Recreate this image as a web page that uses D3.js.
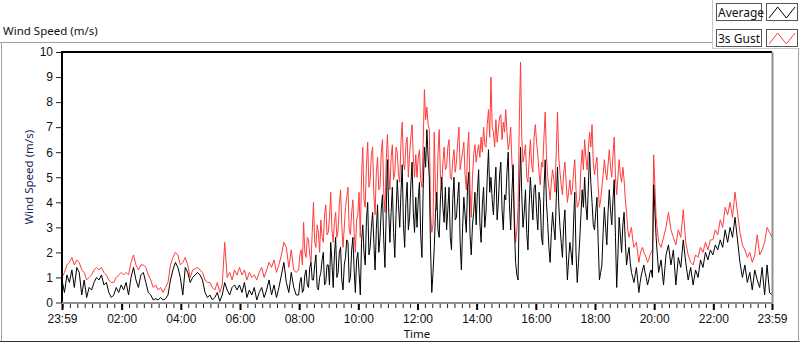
<!DOCTYPE html>
<html>
<head>
<meta charset="utf-8">
<script src="https://cdn.jsdelivr.net/npm/d3@7"></script>
<style>
  body { margin: 0; background: #fff; }
  svg { display: block; font-family: "Noto Sans", "Open Sans", sans-serif; }
</style>
</head>
<body>
<div id="chart"></div>
<script>
// one row per hour starting 23:59; values spread evenly across the hour
var averageSpeed = [
  [0.9,0.4,1.1,0.8,1.3,0.6,1.4,1.2,0.3,0.9,0.2,0.6],
  [0.5,0.8,1.0,0.9,1.1,0.7,0.8,0.4,0.2,0.3,0.6,0.4],
  [0.7,0.5,0.8,0.3,1.0,1.4,0.9,0.6,1.1,1.2,0.8,0.4],
  [0.3,0.1,0.15,0.1,0.2,0.1,0.15,0.3,0.9,1.3,1.6,1.4],
  [1.0,0.3,1.4,1.2,0.8,1.0,1.1,1.2,1.1,0.9,0.4,0.2],
  [0.3,0.1,0.2,0.4,0.05,0.3,0.8,0.5,0.3,0.6,0.7,0.5],
  [0.7,0.4,0.8,0.2,0.5,0.3,0.6,0.1,0.4,0.6,0.2,0.5],
  [0.9,0.3,0.7,0.2,0.6,1.1,1.6,0.8,0.4,1.2,0.6,0.3],
  [0.3,0.8,1.0,0.4,0.5,1.1,1.3,0.7,0.6,1.4,1.6,0.9,0.9,1.5,1.9,0.6,0.5,1.0,1.2,1.7,2.0,0.7,0.8,1.5],
  [1.5,0.7,2.4,1.6,0.6,1.9,2.6,1.0,1.2,2.0,2.2,0.9,0.5,1.5,1.8,2.5,2.4,0.8,1.0,2.1,2.6,1.3,0.4,1.7],
  [2.0,1.2,0.3,2.4,3.1,2.0,1.5,3.3,4.0,1.9,2.2,3.0,3.6,2.4,1.3,2.9,3.9,2.0,2.6,3.7,4.3,2.5,1.4,3.5],
  [5.7,3.8,2.4,3.6,4.6,2.8,1.8,3.5,4.9,3.9,3.0,4.4,5.5,3.1,2.2,4.0,4.8,2.9,3.4,4.7,5.6,3.6,2.8,4.2],
  [3.0,4.1,4.8,2.7,1.8,4.5,6.2,5.4,6.9,5.8,5.0,2.1,0.4,1.2,2.2,3.6,4.4,2.9,2.6,4.1,5.0,3.8,3.2,4.6],
  [2.9,3.7,4.6,2.6,2.1,4.1,5.0,3.3,3.4,4.2,4.8,2.4,1.3,3.0,4.2,3.5,2.8,4.6,5.2,2.7,1.9,3.1,3.6,4.4],
  [3.1,4.4,5.3,3.2,2.4,3.9,4.6,3.0,3.6,5.0,6.1,4.4,5.0,4.1,3.5,4.6,5.4,3.3,4.0,5.1,5.6,3.7,2.9,4.3],
  [4.1,5.2,6.0,3.9,2.9,4.4,5.5,3.0,1.6,1.1,0.9,4.0,6.2,4.3,3.0,3.6,4.5,2.8,2.1,3.9,5.0,4.1,3.3,4.6],
  [4.7,3.6,2.9,4.4,4.0,2.6,2.3,4.5,5.7,4.0,3.2,2.2,1.6,2.8,3.6,3.0,2.5,4.2,5.4,3.9,3.0,2.4,1.8,3.1],
  [3.7,2.1,0.9,1.7,2.4,2.0,1.5,3.2,4.4,2.0,0.8,1.6,2.5,3.5,4.5,3.8,5.0,3.9,3.3,4.6,6.0,4.8,4.0,3.1],
  [2.9,3.6,4.2,2.4,0.9,1.2,1.5,2.8,3.8,3.0,2.3,3.6,4.5,3.7,3.1,4.1,4.9,2.6,0.6,1.9,3.4,2.7,2.0,3.1],
  [3.6,2.4,1.5,1.9,2.2,1.6,1.2,1.0,0.8,1.1,1.4,0.9,0.4,0.8,1.1,1.3,1.5,1.2,1.0,0.7,0.9,1.2,1.3,1.0],
  [4.7,2.6,1.2,1.7,0.7,1.9,2.3,1.5,2.1,0.7,1.8,1.4],
  [2.5,1.6,0.9,1.4,0.7,1.3,1.0,1.7,1.4,2.0,1.7,2.1],
  [1.9,2.3,2.1,2.5,2.2,2.9,2.4,3.0,2.6,3.4,2.5,1.6],
  [1.0,1.5,0.8,1.2,0.5,1.3,0.9,0.6,1.4,0.3,1.5,0.4],
  [0.3]
];
var gustSpeed = [
  [1.0,1.2,1.5,1.6,1.8,1.5,1.7,1.6,1.3,1.2,0.9,1.0],
  [1.1,1.3,1.4,1.3,1.4,1.2,1.1,0.9,0.8,0.8,1.0,1.1],
  [1.2,1.1,1.2,1.1,1.6,1.9,1.5,1.3,1.5,1.5,1.4,1.1],
  [0.9,0.6,0.7,0.5,0.6,0.4,0.6,0.8,1.5,1.8,2.0,1.9],
  [1.5,1.6,1.8,1.5,1.0,1.3,1.35,1.4,1.3,1.2,0.9,0.8],
  [0.8,0.6,0.5,0.8,0.4,0.7,2.4,1.0,1.2,0.9,1.3,1.1],
  [1.4,1.1,1.3,0.9,1.2,1.0,1.1,0.9,1.2,1.4,1.0,1.3],
  [1.6,1.4,1.7,1.2,1.5,1.9,2.4,2.2,1.4,2.1,1.3,1.2],
  [1.3,1.9,2.1,1.5,3.2,2.0,1.8,2.6,2.5,1.9,1.6,2.8,4.0,2.4,2.2,3.1,2.8,2.0,3.3,2.6,2.4,3.5,3.9,2.7],
  [2.8,3.4,4.4,2.9,2.4,3.2,3.6,2.6,2.9,3.9,4.5,3.1,2.2,3.0,3.8,4.2,4.6,2.9,2.7,3.6,4.1,2.8,2.0,3.3],
  [3.5,4.4,2.6,5.0,6.2,4.1,3.8,5.5,6.4,4.6,4.9,5.9,6.2,4.3,3.5,5.2,5.8,4.5,4.6,6.0,6.5,4.4,3.6,5.6],
  [6.7,5.4,4.5,5.8,6.3,4.9,5.2,6.2,6.0,5.1,4.8,6.4,7.2,5.6,5.3,6.3,6.6,5.0,5.9,6.6,7.1,5.8,5.0,5.9],
  [5.0,5.8,6.1,4.9,4.6,6.3,8.5,7.3,7.8,7.1,6.9,3.6,2.8,3.1,6.8,4.4,3.7,5.9,6.9,5.1,4.5,5.6,6.2,5.3],
  [5.4,6.2,6.5,5.0,4.9,5.7,6.1,5.2,5.6,6.4,7.0,5.3,5.7,6.0,6.4,5.1,4.5,6.1,6.8,4.6,3.4,5.0,5.9,6.3],
  [5.6,6.0,6.3,5.8,6.6,6.0,7.0,6.3,6.2,7.1,7.7,6.6,9.0,7.0,6.8,6.2,7.3,6.4,6.9,7.4,7.5,6.5,7.2,6.8],
  [7.7,6.8,6.1,6.4,7.0,5.6,4.9,3.4,2.4,2.9,3.8,7.2,9.6,6.6,5.6,5.9,6.3,5.0,4.8,5.7,6.5,5.5,5.2,6.6],
  [7.1,6.4,5.9,5.2,4.7,5.6,5.4,6.6,7.6,5.9,5.0,4.6,4.1,4.8,5.3,4.9,4.4,6.1,7.6,5.8,5.2,4.7,4.3,5.2],
  [5.6,4.8,4.0,4.4,4.9,4.3,4.5,5.2,5.7,4.5,3.8,3.9,4.2,5.4,6.1,5.3,6.5,5.8,5.3,6.1,6.8,6.2,7.1,5.6],
  [5.1,5.5,5.8,4.6,3.8,4.1,4.6,5.1,5.7,5.2,4.9,5.5,6.1,5.4,5.0,5.9,6.6,5.0,4.3,5.0,5.7,5.1,4.8,5.4],
  [4.9,4.1,3.6,2.9,2.6,2.8,3.0,2.5,2.2,2.3,2.4,2.0,1.6,1.9,2.1,2.2,2.0,1.9,1.8,1.6,1.7,1.9,2.0,2.1],
  [5.9,3.4,2.4,2.2,2.6,3.0,3.6,2.9,2.6,2.3,2.9,2.6],
  [3.7,2.4,1.9,1.6,1.5,1.9,1.8,2.2,2.0,2.4,2.1,2.5],
  [2.5,2.9,2.7,3.3,3.0,3.8,3.5,4.0,3.4,4.4,3.6,2.8],
  [2.3,2.1,1.8,2.0,1.6,1.9,2.7,1.9,2.1,2.4,3.0,2.8],
  [2.6]
];
var seriesNames = ["Average", "3s Gust"];
var seriesColors = ["#000000", "#ff3c3c"];
var yTicks = [0, 1, 2, 3, 4, 5, 6, 7, 8, 9, 10];

var startTime = new Date(2020, 0, 1, 23, 59);
var endTime = new Date(2020, 0, 2, 23, 59);

var W = 800, H = 342;
var plot = {left: 62, right: 772, top: 52, bottom: 302.5};

// flatten hourly rows into {t, v} points
function toPoints(rows) {
  var pts = [];
  rows.forEach(function(row, h) {
    row.forEach(function(v, j) {
      var minutes = h * 60 + j * 60 / row.length;
      pts.push({t: new Date(startTime.getTime() + minutes * 60000), v: v});
    });
  });
  return pts;
}

var svg = d3.select("#chart")
  .append("svg")
    .attr("width", W)
    .attr("height", H);

// outer frame
svg.append("line").attr("x1", 0).attr("x2", 712).attr("y1", 42.5).attr("y2", 42.5)
  .attr("stroke", "#a0a0a0");
svg.append("line").attr("x1", 1.5).attr("x2", 1.5).attr("y1", 42).attr("y2", 342)
  .attr("stroke", "#a0a0a0");
svg.append("line").attr("x1", 0).attr("x2", 800).attr("y1", 341.5).attr("y2", 341.5)
  .attr("stroke", "#303030");
svg.append("line").attr("x1", 798.5).attr("x2", 798.5).attr("y1", 48).attr("y2", 342)
  .attr("stroke", "#a0a0a0");

svg.append("text")
  .attr("x", 3)
  .attr("y", 35)
  .style("font-size", "11.5px")
  .attr("fill", "#111")
  .text("Wind Speed (m/s)");

// scales
var x = d3.scaleTime()
  .domain([startTime, endTime])
  .range([plot.left, plot.right]);
var y = d3.scaleLinear()
  .domain([0, 10])
  .range([plot.bottom, plot.top]);

// lines (gust behind, average in front)
var line = d3.line()
  .x(function(d) { return x(d.t); })
  .y(function(d) { return y(d.v); });

svg.append("path")
  .datum(toPoints(gustSpeed))
  .attr("fill", "none")
  .attr("stroke", seriesColors[1])
  .attr("stroke-width", 1)
  .attr("d", line);
svg.append("path")
  .datum(toPoints(averageSpeed))
  .attr("fill", "none")
  .attr("stroke", seriesColors[0])
  .attr("stroke-width", 1)
  .attr("d", line);

// plot border: dark top/left, grey bottom/right
svg.append("line").attr("x1", plot.left - 1).attr("x2", plot.right).attr("y1", plot.top).attr("y2", plot.top)
  .attr("stroke", "#000").attr("stroke-width", 2);
svg.append("line").attr("x1", plot.left).attr("x2", plot.left).attr("y1", plot.top).attr("y2", plot.bottom + 1)
  .attr("stroke", "#000").attr("stroke-width", 2);
svg.append("line").attr("x1", plot.left).attr("x2", plot.right + 1).attr("y1", plot.bottom + 0.5).attr("y2", plot.bottom + 0.5)
  .attr("stroke", "#909090").attr("stroke-width", 2);
svg.append("line").attr("x1", plot.right + 0.5).attr("x2", plot.right + 0.5).attr("y1", plot.top).attr("y2", plot.bottom + 1)
  .attr("stroke", "#909090").attr("stroke-width", 2);

// Y axis
var yAxis = svg.append("g")
  .attr("transform", "translate(" + (plot.left - 1) + ",0)")
  .call(d3.axisLeft(y).tickValues(yTicks).tickSize(5).tickPadding(3));
yAxis.select(".domain").remove();
yAxis.selectAll("text").style("font-size", "12px").attr("fill", "#111");
yAxis.selectAll("line").attr("stroke", "#222");

svg.append("text")
  .attr("transform", "translate(33," + ((plot.top + plot.bottom) / 2) + ")rotate(-90)")
  .attr("text-anchor", "middle")
  .style("font-size", "11.5px")
  .attr("fill", "#14285a")
  .text("Wind Speed (m/s)");

// X axis: minor ticks every 15 min, labels every 2 h
var minorTicks = d3.timeMinute.every(15).range(startTime, endTime);
var majorTicks = [startTime].concat(d3.timeHour.every(2).range(new Date(2020, 0, 2, 1, 0), endTime)
  .filter(function(d) { return d.getHours() % 2 == 0; }), [endTime]);
var fmt = d3.timeFormat("%H:%M");

var xMinor = svg.append("g")
  .attr("transform", "translate(0," + (plot.bottom + 1.5) + ")")
  .call(d3.axisBottom(x).tickValues(minorTicks).tickSize(4).tickFormat(""));
xMinor.select(".domain").remove();
xMinor.selectAll("line").attr("stroke", "#222");

var xAxis = svg.append("g")
  .attr("transform", "translate(0," + (plot.bottom + 1.5) + ")")
  .call(d3.axisBottom(x).tickValues(majorTicks).tickSize(6).tickPadding(4).tickFormat(fmt));
xAxis.select(".domain").remove();
xAxis.selectAll("line").attr("stroke", "#000").attr("stroke-width", 2);
xAxis.selectAll("text").style("font-size", "12px").attr("fill", "#111");

svg.append("text")
  .attr("x", (plot.left + plot.right) / 2)
  .attr("y", 338)
  .attr("text-anchor", "middle")
  .style("font-size", "11.5px")
  .attr("fill", "#111")
  .text("Time");

// legend panel
var legend = svg.append("g");
legend.append("path")
  .attr("d", "M712.5,0V48.5H800")
  .attr("fill", "none")
  .attr("stroke", "#c8c8c8");

seriesNames.forEach(function(name, i) {
  var top = 3 + i * 26;
  var g = legend.append("g").attr("transform", "translate(0," + top + ")");
  g.append("rect").attr("x", 716.5).attr("y", 0.5).attr("width", 45).attr("height", 17)
    .attr("fill", "#fff").attr("stroke", "#555");
  g.append("text").attr("x", 718).attr("y", 13.5)
    .style("font-size", "12px").attr("fill", "#111").text(name);
  g.append("rect").attr("x", 766.5).attr("y", 0.5).attr("width", 31).attr("height", 17)
    .attr("fill", "#fff").attr("stroke", "#555");
  var iconX = d3.scaleLinear().domain([0, 3]).range([769, 795]);
  var iconY = d3.scaleLinear().domain([0, 1]).range([15, 4]);
  g.append("path")
    .datum([0, 1, 0, 1])
    .attr("fill", "none")
    .attr("stroke", seriesColors[i])
    .attr("d", d3.line().x(function(d, j) { return iconX(j); }).y(function(d) { return iconY(d); }));
});
</script>
</body>
</html>
